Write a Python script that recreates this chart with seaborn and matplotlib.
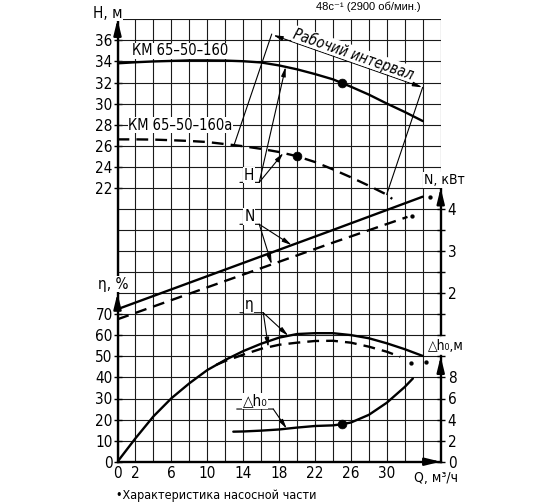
import matplotlib
matplotlib.use("Agg")
import numpy as np
import matplotlib.pyplot as plt
import seaborn as sns

# ---------------- data ----------------
q_h160 = [0, 2, 4, 6, 8, 10, 12, 14, 16, 18, 20, 22, 24, 26, 28, 30, 32, 34]
h_160 = [33.82, 33.92, 34.0, 34.05, 34.1, 34.1, 34.08, 34.02, 33.9, 33.62,
         33.25, 32.8, 32.3, 31.6, 30.85, 30.0, 29.2, 28.34]
q_h160a = [0, 2, 4, 6, 8, 10, 12, 14, 16, 18, 20, 22, 24, 26, 28, 30, 30.6]
h_160a = [26.6, 26.6, 26.58, 26.52, 26.45, 26.35, 26.15, 25.95, 25.7, 25.4,
          25.0, 24.45, 23.75, 23.0, 22.2, 21.35, 20.95]

q_n160 = [0, 12, 24, 34]
n_160 = [1.62, 2.56, 3.50, 4.29]
q_n160a = [0, 12, 24, 32.3]
n_160a = [1.38, 2.29, 3.20, 3.81]

q_eta160 = [0, 2, 4, 6, 8, 10, 12, 14, 16, 18, 20, 22, 24, 26, 28, 30, 32, 34]
eta_160 = [0, 11.1, 21.5, 30.1, 37.2, 43.5, 48.3, 52.5, 56.0, 58.9, 60.6,
           61.0, 61.0, 60.1, 58.6, 56.2, 53.4, 50.2]
q_eta160a = [11, 12, 14, 16, 18, 20, 22, 24, 26, 28, 30, 31.5]
eta_160a = [46.0, 47.8, 50.8, 53.6, 55.5, 56.5, 57.3, 57.4, 56.5, 54.6, 52.2, 49.8]

q_dh = [12.9, 14, 16, 18, 20, 22, 24, 25, 26, 28, 30, 32, 32.9]
dh_vals = [2.85, 2.87, 2.95, 3.06, 3.24, 3.39, 3.45, 3.56, 3.72, 4.45, 5.6, 7.1, 7.9]

# operating points (large dots)
q_op = [25, 20]
h_op = [31.95, 25.0]
q_dh_op = [25]
dh_op = [3.56]
# pump-part characteristic points (small dots)
q_n_pump = [34.8, 32.8]
n_pump = [4.29, 3.84]
q_eta_pump = [34.36, 32.7]
eta_pump = [47.5, 46.7]

q_ticks = [0, 2, 6, 10, 14, 18, 22, 26, 30]
h_ticks = [22, 24, 26, 28, 30, 32, 34, 36]
eta_ticks = [0, 10, 20, 30, 40, 50, 60, 70]
n_ticks = [1, 1.5, 2, 2.5, 3, 3.5, 4]
n_labels = ["", "", "2", "", "3", "", "4"]
dh_ticks = [0, 2, 4, 6, 8, 10]
dh_labels = ["0", "2", "4", "6", "8", ""]

# ---------------- style ----------------
sns.set_theme(style="white")
plt.rcParams["font.family"] = ["Liberation Sans Narrow", "DejaVu Sans"]
plt.rcParams["font.stretch"] = "condensed"
plt.rcParams["axes.unicode_minus"] = False

W, HP = 560, 504
fig = plt.figure(figsize=(5.6, 5.04), dpi=100)
L, R, B, T = 117.5, 440.7, 461.7, 19.3
ax = fig.add_axes([L / W, 1 - B / HP, (R - L) / W, (B - T) / HP])
ax.set_facecolor("white")
ax.set_xlim(0, 36)
ax.set_ylim(-4, 38)

K = "black"
LW = 1.7
DASH = (0, (5, 3))
FS = 11

# grid via minor ticks
ax.xaxis.remove_overlapping_locs = False
ax.yaxis.remove_overlapping_locs = False
ax.set_xticks(np.arange(0, 37, 2), minor=True)
ax.set_yticks(np.arange(-4, 39, 2), minor=True)
ax.grid(False)
ax.grid(which="minor", color="#1a1a1a", lw=0.8)
ax.set_axisbelow(True)
ax.tick_params(which="minor", length=0)

ax.set_xticks(q_ticks)
ax.set_xticklabels([str(v) for v in q_ticks])
ax.set_yticks(h_ticks)
ax.set_yticklabels([str(v) for v in h_ticks])
ax.tick_params(axis="x", which="major", length=0, pad=3, labelsize=FS, colors=K)
ax.tick_params(axis="y", which="major", left=True, direction="inout", length=6,
               width=1.0, pad=0.5, labelsize=FS, colors=K)
for s in ["top", "right"]:
    ax.spines[s].set_visible(False)
for s in ["left", "bottom"]:
    ax.spines[s].set_color(K)
    ax.spines[s].set_linewidth(LW)

# twin axes for eta, N, dh
ax_eta = ax.twinx()
ax_n = ax.twinx()
ax_dh = ax.twinx()
ax_eta.set_ylim(0, 210)
ax_n.set_ylim(-2, 8.5)
ax_dh.set_ylim(0, 42)
for a in (ax_eta, ax_n, ax_dh):
    for s in a.spines.values():
        s.set_visible(False)
    a.grid(False)

ax_eta.yaxis.tick_left()
ax_eta.set_yticks(eta_ticks)
ax_eta.set_yticklabels([str(v) for v in eta_ticks])
ax_eta.tick_params(axis="y", left=True, right=False, direction="inout", length=6,
                   width=1.0, pad=0.5, labelsize=FS, colors=K)

ax_n.set_yticks(n_ticks)
ax_n.set_yticklabels(n_labels)
ax_n.tick_params(axis="y", right=True, left=False, direction="inout", length=6,
                 width=1.0, pad=2, labelsize=FS, colors=K)
ax_n.spines["right"].set_visible(True)
ax_n.spines["right"].set_bounds(1, 4.5)
ax_n.spines["right"].set_linewidth(LW)
ax_n.spines["right"].set_color(K)

ax_dh.set_yticks(dh_ticks)
ax_dh.set_yticklabels(dh_labels)
ax_dh.tick_params(axis="y", right=True, left=False, direction="inout", length=6,
                  width=1.0, pad=2, labelsize=FS, colors=K)
ax_dh.spines["right"].set_visible(True)
ax_dh.spines["right"].set_bounds(0, 10)
ax_dh.spines["right"].set_linewidth(LW)
ax_dh.spines["right"].set_color(K)

# ---------------- curves ----------------
sns.lineplot(x=q_h160, y=h_160, ax=ax, color=K, lw=LW, sort=False, estimator=None)
sns.lineplot(x=q_h160a, y=h_160a, ax=ax, color=K, lw=LW, ls=DASH, sort=False, estimator=None)
sns.lineplot(x=q_n160, y=n_160, ax=ax_n, color=K, lw=LW, sort=False, estimator=None)
sns.lineplot(x=q_n160a, y=n_160a, ax=ax_n, color=K, lw=LW, ls=DASH, sort=False, estimator=None)
sns.lineplot(x=q_eta160, y=eta_160, ax=ax_eta, color=K, lw=LW, sort=False, estimator=None)
sns.lineplot(x=q_eta160a, y=eta_160a, ax=ax_eta, color=K, lw=LW, ls=DASH, sort=False, estimator=None)
sns.lineplot(x=q_dh, y=dh_vals, ax=ax_dh, color=K, lw=LW, sort=False, estimator=None)

sns.scatterplot(x=q_op, y=h_op, ax=ax, color=K, s=40, edgecolor=K, zorder=5)
sns.scatterplot(x=q_dh_op, y=dh_op, ax=ax_dh, color=K, s=40, edgecolor=K, zorder=5)
sns.scatterplot(x=q_n_pump, y=n_pump, ax=ax_n, color=K, s=8, edgecolor=K, zorder=5)
sns.scatterplot(x=q_eta_pump, y=eta_pump, ax=ax_eta, color=K, s=8, edgecolor=K, zorder=5)

for a in (ax, ax_eta, ax_n, ax_dh):
    a.set_xlabel("")
    a.set_ylabel("")
ax.set_xlim(0, 36)

# ---------------- axis arrows ----------------
AX_ARROW = dict(arrowstyle="-|>,head_length=0.9,head_width=0.22", color=K,
                lw=LW, shrinkA=0, shrinkB=0, mutation_scale=10)
ax.annotate("", xy=(0, 38), xytext=(0, 36.5), arrowprops=AX_ARROW, annotation_clip=False)
ax_eta.annotate("", xy=(0, 80), xytext=(0, 72), arrowprops=AX_ARROW, annotation_clip=False)
ax_n.annotate("", xy=(36, 4.5), xytext=(36, 4.1), arrowprops=AX_ARROW, annotation_clip=False)
ax_dh.annotate("", xy=(36, 10), xytext=(36, 8.4), arrowprops=AX_ARROW, annotation_clip=False)
ax.annotate("", xy=(36, -4), xytext=(34.3, -4), arrowprops=AX_ARROW, annotation_clip=False)

# ---------------- annotations ----------------
THIN = dict(arrowstyle="-", color=K, lw=0.8, shrinkA=0, shrinkB=0)
PTR = dict(arrowstyle="-|>,head_length=0.55,head_width=0.13", color=K, lw=0.8,
           shrinkA=0, shrinkB=0, mutation_scale=10)
DBL = dict(arrowstyle="<|-|>,head_length=0.55,head_width=0.13", color=K, lw=0.8,
           shrinkA=0, shrinkB=0, mutation_scale=10)
WB = dict(facecolor="white", edgecolor="none", pad=0.5)

# working interval
ax.annotate("", xy=(33.95, 31.54), xytext=(17.35, 36.5), arrowprops=DBL)
ax.annotate("", xy=(17.18, 36.6), xytext=(12.98, float(np.interp(12.98, q_h160a, h_160a))), arrowprops=THIN)
ax.annotate("", xy=(33.99, 31.54), xytext=(29.98, float(np.interp(29.98, q_h160a, h_160a))), arrowprops=THIN)
ax.text(26.3, 34.7, "Рабочий интервал", rotation=-19.3, rotation_mode="anchor",
        ha="center", va="center", fontsize=10.5, style="italic", color=K,
        bbox=dict(facecolor="white", edgecolor="none", pad=0.1), zorder=4)

# H leader
ax.annotate("", xy=(15.79, 22.52), xytext=(13.64, 22.52), arrowprops=THIN)
ax.annotate("", xy=(18.73, float(np.interp(18.73, q_h160, h_160))), xytext=(15.79, 22.52), arrowprops=PTR)
ax.annotate("", xy=(18.47, float(np.interp(18.47, q_h160a, h_160a))), xytext=(15.79, 22.52), arrowprops=PTR)
ax.text(14.68, 23.2, "H", ha="center", va="center", fontsize=FS, color=K, bbox=WB, zorder=4)

# N leader (N axis: H = 4*N + 4)
ax.annotate("", xy=(15.79, 18.54), xytext=(13.64, 18.54), arrowprops=THIN)
ax.annotate("", xy=(19.40, 4 * float(np.interp(19.40, q_n160, n_160)) + 4), xytext=(15.79, 18.54), arrowprops=PTR)
ax.annotate("", xy=(17.18, 4 * float(np.interp(17.18, q_n160a, n_160a)) + 4), xytext=(15.79, 18.54), arrowprops=PTR)
ax.text(14.68, 19.3, "N", ha="center", va="center", fontsize=FS, color=K, bbox=WB, zorder=4)

# eta leader (eta axis: H = eta/5 - 4)
ax.annotate("", xy=(16.24, 10.14), xytext=(13.64, 10.14), arrowprops=THIN)
ax.annotate("", xy=(19.02, float(np.interp(19.02, q_eta160, eta_160)) / 5 - 4), xytext=(16.24, 10.14), arrowprops=PTR)
ax.annotate("", xy=(16.8, float(np.interp(16.8, q_eta160a, eta_160a)) / 5 - 4), xytext=(16.24, 10.14), arrowprops=PTR)
ax.text(14.68, 10.9, "η", ha="center", va="center", fontsize=FS, color=K, bbox=WB, zorder=4)

# dh leader (dh axis: H = dh - 4)
ax.annotate("", xy=(17.35, 1.0), xytext=(13.28, 1.0), arrowprops=THIN)
ax.annotate("", xy=(18.85, float(np.interp(18.85, q_dh, dh_vals)) - 4), xytext=(17.35, 1.0), arrowprops=PTR)
ax.text(15.3, 1.75, "△h₀", ha="center", va="center", fontsize=FS, color=K, bbox=WB, zorder=4)

# model labels
ax.text(6.96, 35.0, "КМ 65–50–160", ha="center", va="center", fontsize=10.5, color=K,
        bbox=WB, zorder=4)
ax.text(7.02, 27.96, "КМ 65–50–160а", ha="center", va="center", fontsize=10.5, color=K,
        bbox=WB, zorder=4)

# ---------------- figure-level labels ----------------
def fx(x):
    return x / W

def fy(y):
    return 1 - y / HP

fig.text(fx(107.5), fy(13), "H, м", ha="center", va="center", fontsize=FS, color=K, bbox=WB)
fig.text(fx(444), fy(180), "N, кВт", ha="center", va="center", fontsize=10, color=K, bbox=WB)
fig.text(fx(113), fy(284), "η, %", ha="center", va="center", fontsize=FS, color=K, bbox=WB)
fig.text(fx(446), fy(346), "△h₀,м", ha="center", va="center", fontsize=10, color=K, bbox=WB)
fig.text(fx(436), fy(477.5), "Q, м³/ч", ha="center", va="center", fontsize=10, color=K)
fig.text(fx(116), fy(495), "•Характеристика насосной части", ha="left", va="center",
         fontsize=9, color=K)
fig.text(fx(368), fy(7), "48с⁻¹ (2900 об/мин.)", ha="center", va="center", fontsize=8,
         color=K, family=["Liberation Sans", "DejaVu Sans"], stretch="normal")

fig.savefig("out.png", dpi=100, facecolor="white")
